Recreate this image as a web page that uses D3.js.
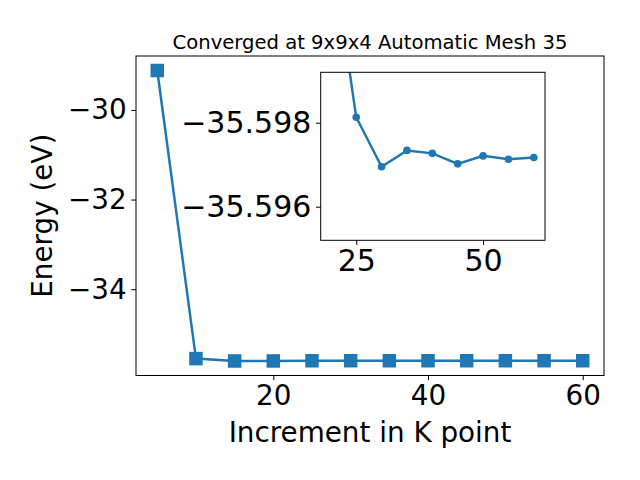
<!DOCTYPE html>
<html><head><meta charset="utf-8">
<script src="https://cdn.jsdelivr.net/npm/d3@7"></script>
<style>
body{margin:0;background:#fff;}
svg text{font-family:"DejaVu Sans",sans-serif;fill:#000;}
</style></head>
<body>
<script>
const kpoints = [5,10,15,20,25,30,35,40,45,50,55,60];
const energies = [-29.12,-35.55,-35.6030,-35.6023,-35.59813,-35.59695,-35.59734,-35.59727,-35.59702,-35.59721,-35.59713,-35.59717];
const mainXTicks = [20,40,60];
const mainYTicks = [-30,-32,-34];
const insetXTicks = [25,50];
const insetYTicks = [-35.598,-35.596];
const title = "Converged at 9x9x4 Automatic Mesh 35";
const xLabel = "Increment in K point";
const yLabel = "Energy (eV)";

const W=640,H=480, color="#1f77b4", fs=27.8, fsi=30;
const svg=d3.select("body").append("svg").attr("width",W).attr("height",H);
const data = kpoints.map((k,i)=>({x:k,y:energies[i]}));

// main axes
const M={l:136,r:604,t:56,b:375.5};
const x=d3.scaleLinear().domain([2.25,62.75]).range([M.l,M.r]);
const y=d3.scaleLinear().domain([-35.927,-28.796]).range([M.b,M.t]);
const line=d3.line().x(d=>x(d.x)).y(d=>y(d.y));
svg.append("path").datum(data).attr("d",line).attr("fill","none").attr("stroke",color).attr("stroke-width",2.5);
const ms=13.5;
svg.selectAll("rect.m").data(data).enter().append("rect").attr("class","m")
 .attr("x",d=>x(d.x)-ms/2).attr("y",d=>y(d.y)-ms/2).attr("width",ms).attr("height",ms).attr("fill",color);

const gx=svg.append("g").attr("transform",`translate(0,${M.b})`)
 .call(d3.axisBottom(x).tickValues(mainXTicks).tickSize(4.7).tickPadding(4.7).tickFormat(d3.format("d")));
const gy=svg.append("g").attr("transform",`translate(${M.l},0)`)
 .call(d3.axisLeft(y).tickValues(mainYTicks).tickSize(4.7).tickPadding(4.7).tickFormat(d=>"\u2212"+Math.abs(d)));
[gx,gy].forEach(g=>{g.select(".domain").remove();g.selectAll("line").attr("stroke","#000").attr("stroke-width",1);
 g.selectAll("text").attr("font-size",fs).attr("font-family","DejaVu Sans");});
svg.append("rect").attr("x",M.l).attr("y",M.t).attr("width",M.r-M.l).attr("height",M.b-M.t)
 .attr("fill","none").attr("stroke","#000").attr("stroke-width",1);

svg.append("text").attr("x",(M.l+M.r)/2).attr("y",48.5).attr("text-anchor","middle").attr("font-size",19.6).text(title);
svg.append("text").attr("x",(M.l+M.r)/2).attr("y",441.5).attr("text-anchor","middle").attr("font-size",fs).text(xLabel);
svg.append("text").attr("transform",`translate(51.5,${(M.t+M.b)/2}) rotate(-90)`).attr("text-anchor","middle").attr("font-size",fs).text(yLabel);

// inset
const I={l:320.7,r:545,t:72.3,b:240.3};
const xi=d3.scaleLinear().domain([18,62.2]).range([I.l,I.r]);
const yi=d3.scaleLinear().domain([-35.5992,-35.5952]).range([I.t,I.b]);
svg.append("rect").attr("x",I.l).attr("y",I.t).attr("width",I.r-I.l).attr("height",I.b-I.t).attr("fill","#fff");
svg.append("clipPath").attr("id","ic").append("rect").attr("x",I.l).attr("y",I.t).attr("width",I.r-I.l).attr("height",I.b-I.t);
const ig=svg.append("g").attr("clip-path","url(#ic)");
const idata=data.filter(d=>d.x>=20);
ig.append("path").datum(idata).attr("d",d3.line().x(d=>xi(d.x)).y(d=>yi(d.y))).attr("fill","none").attr("stroke",color).attr("stroke-width",2.5);
ig.selectAll("circle").data(idata).enter().append("circle").attr("cx",d=>xi(d.x)).attr("cy",d=>yi(d.y)).attr("r",3.8).attr("fill",color);
const gxi=svg.append("g").attr("transform",`translate(0,${I.b})`)
 .call(d3.axisBottom(xi).tickValues(insetXTicks).tickSize(4.7).tickPadding(4.7).tickFormat(d3.format("d")));
const gyi=svg.append("g").attr("transform",`translate(${I.l},0)`)
 .call(d3.axisLeft(yi).tickValues(insetYTicks).tickSize(4.7).tickPadding(4.7).tickFormat(d=>"\u2212"+Math.abs(d).toFixed(3)));
[gxi,gyi].forEach(g=>{g.select(".domain").remove();g.selectAll("line").attr("stroke","#000").attr("stroke-width",1);
 g.selectAll("text").attr("font-size",fsi).attr("font-family","DejaVu Sans");});
svg.append("rect").attr("x",I.l).attr("y",I.t).attr("width",I.r-I.l).attr("height",I.b-I.t)
 .attr("fill","none").attr("stroke","#000").attr("stroke-width",1);
</script>
</body></html>
